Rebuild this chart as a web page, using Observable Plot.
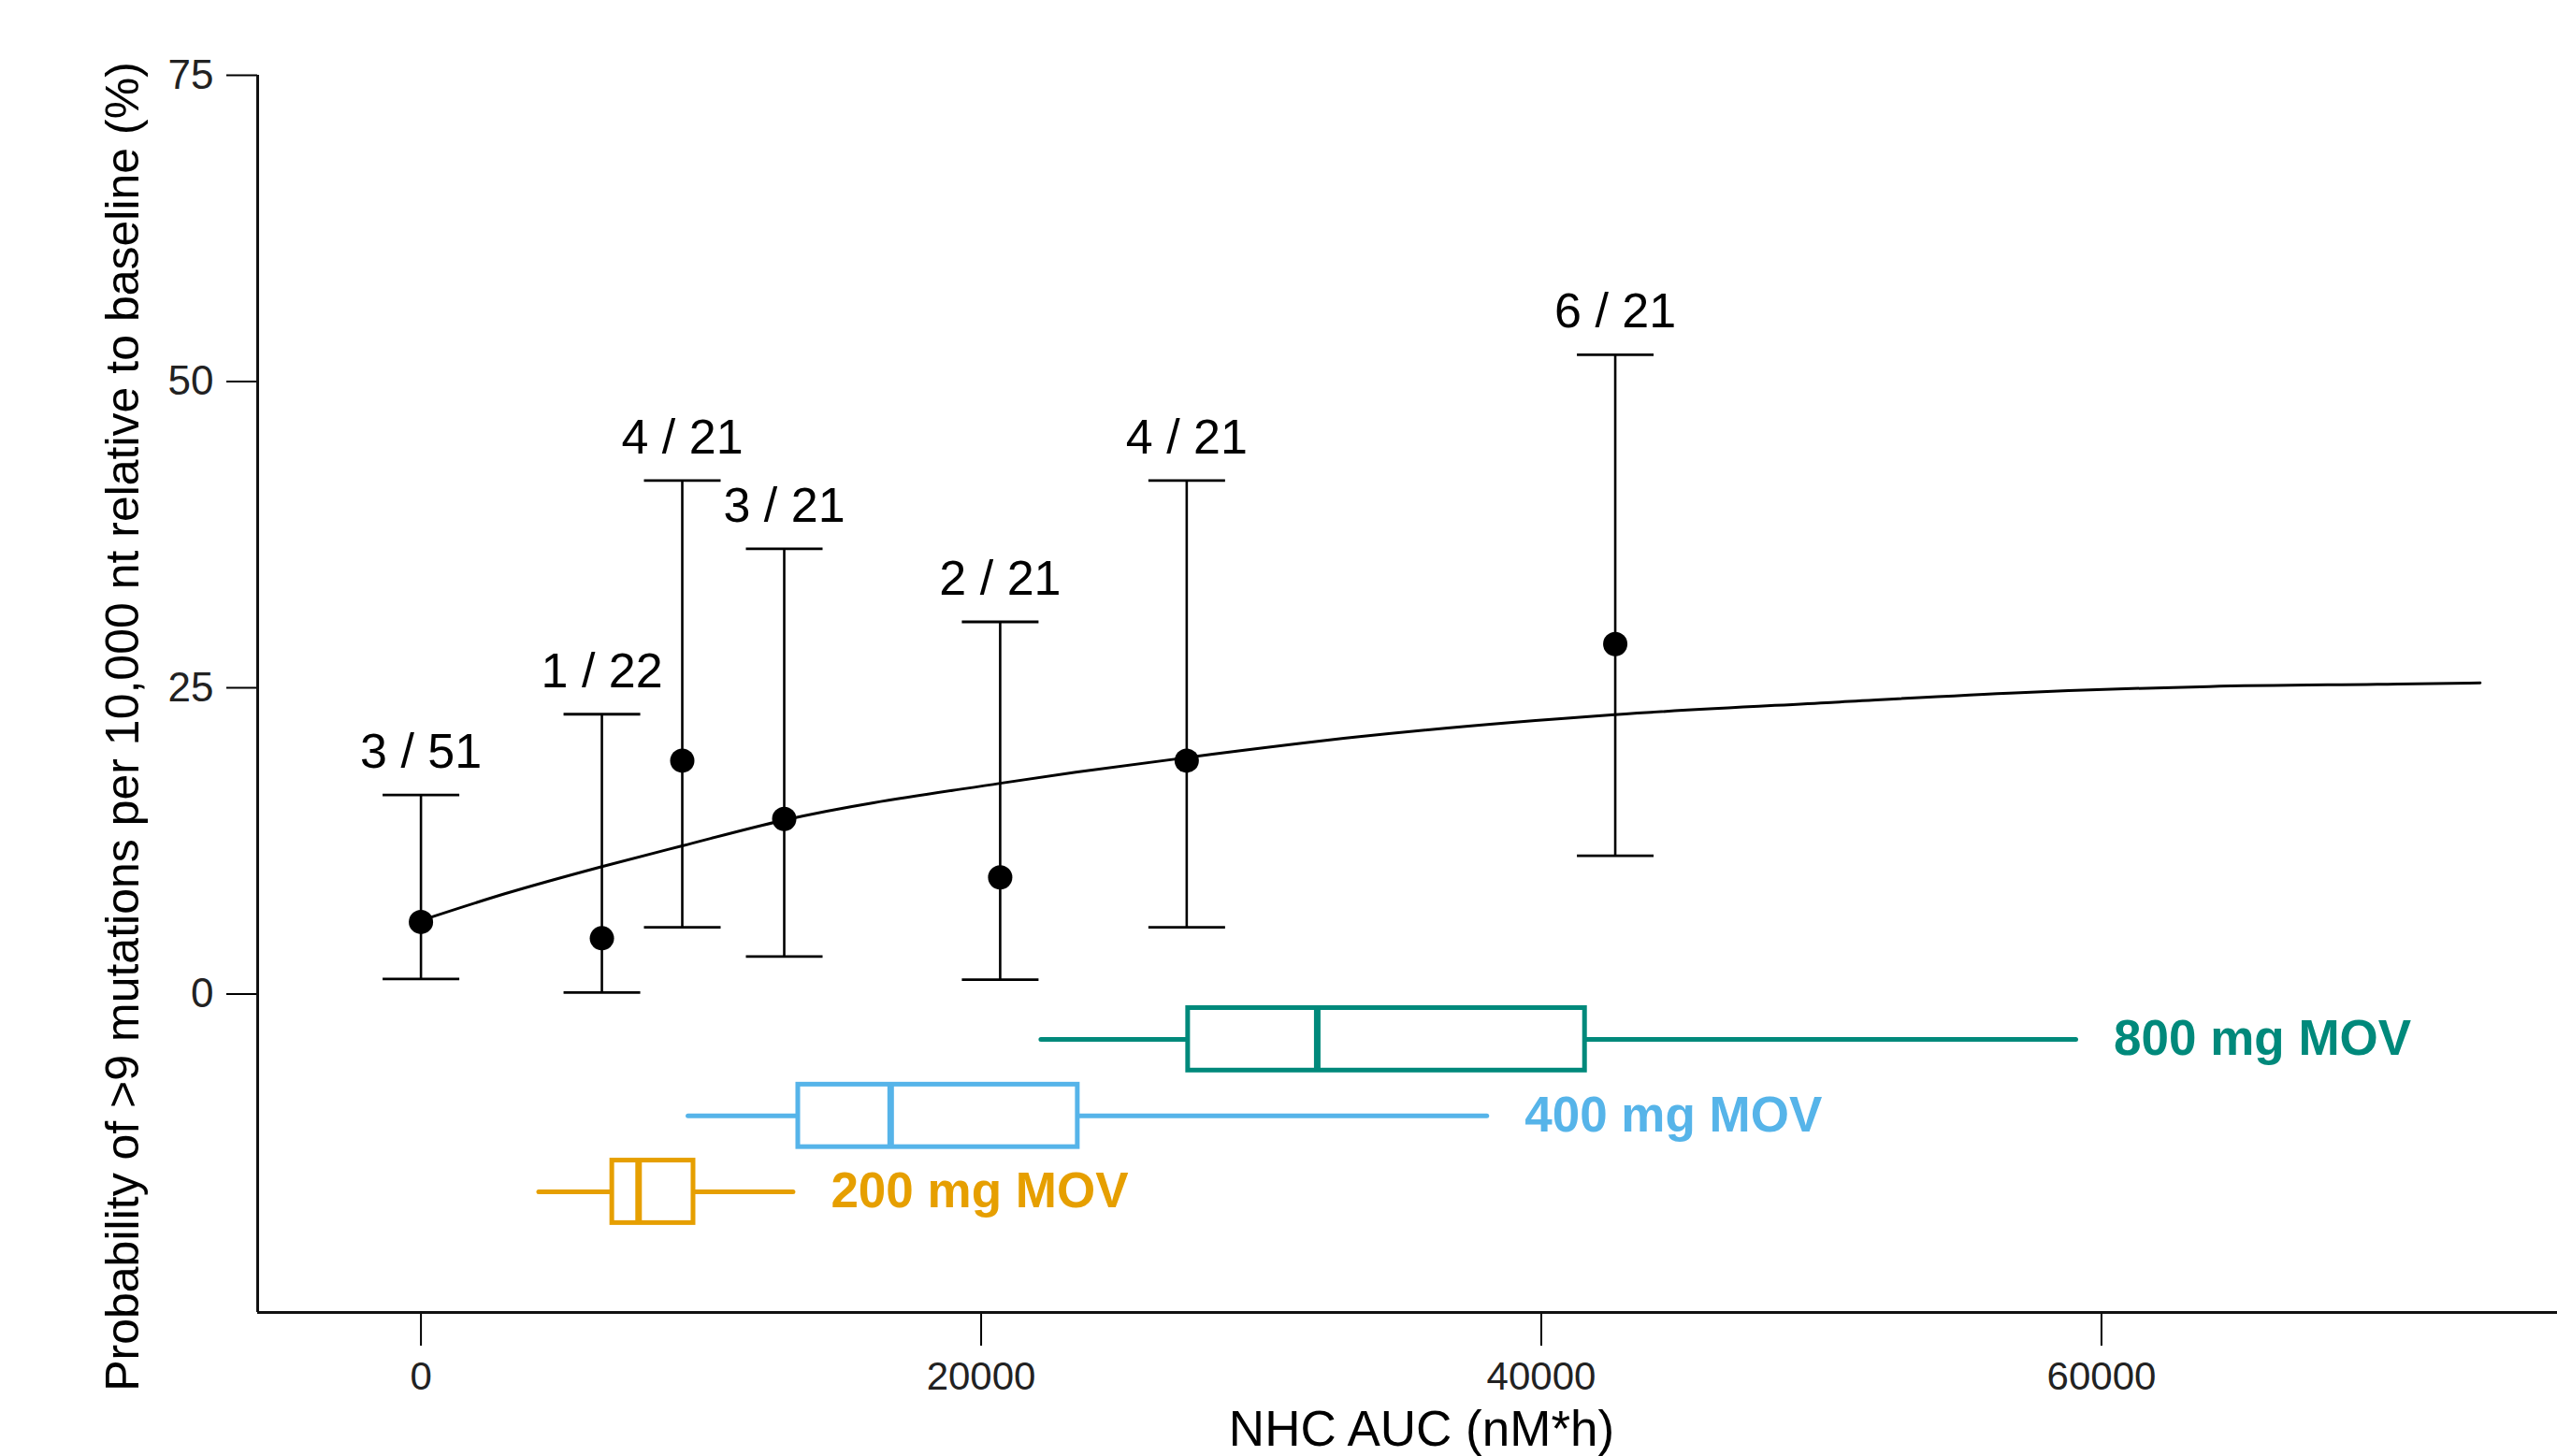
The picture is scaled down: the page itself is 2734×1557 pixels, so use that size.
<!DOCTYPE html>
<html>
<head>
<meta charset="utf-8">
<script src="https://cdn.jsdelivr.net/npm/d3@7"></script>
<script src="https://cdn.jsdelivr.net/npm/@observablehq/plot@0.6"></script>
<style>
  html, body { margin: 0; padding: 0; background: #ffffff; }
  #chart svg { display: block; }
</style>
</head>
<body>
<div id="chart"></div>
<script>
// ---------------- DATA ----------------
// Observed proportions (binned NHC AUC) with exact 95% CI
const pointAUC   = [0, 6460, 9330, 12970, 20680, 27340, 42640];
const pointProb  = [5.88, 4.55, 19.05, 14.29, 9.52, 19.05, 28.57];
const ciLow      = [1.23, 0.12, 5.45, 3.05, 1.17, 5.45, 11.28];
const ciHigh     = [16.24, 22.84, 41.91, 36.34, 30.38, 41.91, 52.18];
const countLabels = ["3 / 51", "1 / 22", "4 / 21", "3 / 21", "2 / 21", "4 / 21", "6 / 21"];

// Model-predicted curve
const curveAUC  = [0, 3020, 6460, 9330, 12970, 20680, 23380, 27340, 33500, 42610, 50350, 57100, 63840, 70580, 73520];
const curveProb = [6.0, 8.2, 10.4, 12.1, 14.2, 17.2, 18.1, 19.3, 21.0, 22.8, 23.8, 24.6, 25.1, 25.3, 25.4];

// NHC AUC distribution by dose (box plots)
const doses       = ["800 mg MOV", "400 mg MOV", "200 mg MOV"];
const whiskerLow  = [22150, 9550, 4220];
const quartile1   = [27390, 13470, 6830];
const medianAUC   = [32000, 16770, 7770];
const quartile3   = [41560, 23450, 9730];
const whiskerHigh = [59100, 38070, 13300];

const xTicks = [0, 20000, 40000, 60000];
const yTicks = [0, 25, 50, 75];
const xTitle = "NHC AUC (nM*h)";
const yTitle = "Probability of >9 mutations per 10,000 nt relative to baseline (%)";

// ---------------- LAYOUT / STYLE ----------------
const xDomain = [-5830, 76280];
const yDomain = [-26, 75];
const doseRowY = [-3.7, -9.95, -16.15];
const boxHalf = 2.55;
const doseColors = ["#00897B", "#56B4E9", "#E69F00"];
const FONT = "'Liberation Sans', Arial, Helvetica, sans-serif";

const points = pointAUC.map((x, i) => ({x, p: pointProb[i], lo: ciLow[i], hi: ciHigh[i], label: countLabels[i]}));
const curve = curveAUC.map((x, i) => ({x, p: curveProb[i]}));

// horizontal cap symbol for error bars
const capSymbol = {
  draw(context, size) {
    const r = Math.sqrt(size / Math.PI);
    context.moveTo(-r, 0);
    context.lineTo(r, 0);
  }
};

const boxMarks = [];
doses.forEach((dose, i) => {
  const row = [{
    dose, lo: whiskerLow[i], q1: quartile1[i], med: medianAUC[i], q3: quartile3[i], hi: whiskerHigh[i],
    y: doseRowY[i], y1: doseRowY[i] - boxHalf, y2: doseRowY[i] + boxHalf
  }];
  const c = doseColors[i];
  boxMarks.push(
    Plot.ruleY(row, {y: "y", x1: "lo", x2: "q1", stroke: c, strokeWidth: 5, strokeLinecap: "round"}),
    Plot.ruleY(row, {y: "y", x1: "q3", x2: "hi", stroke: c, strokeWidth: 5, strokeLinecap: "round"}),
    Plot.rect(row, {x1: "q1", x2: "q3", y1: "y1", y2: "y2", fill: "white", stroke: c, strokeWidth: 5}),
    Plot.ruleX(row, {x: "med", y1: "y1", y2: "y2", stroke: c, strokeWidth: 7}),
    Plot.text(row, {x: "hi", y: "y", text: "dose", dx: 40, textAnchor: "start", fill: c,
      fontWeight: "bold", fontSize: 53, fontFamily: FONT})
  );
});

const chart = Plot.plot({
  width: 2734,
  height: 1557,
  marginLeft: 275,
  marginRight: 0,
  marginTop: 80,
  marginBottom: 154,
  style: {fontFamily: FONT, color: "black", background: "white", overflow: "visible"},
  x: {domain: xDomain},
  y: {domain: yDomain},
  marks: [
    // axes
    Plot.axisY({ticks: yTicks, tickSize: 33, tickPadding: 14, fontSize: 44, label: null,
      strokeWidth: 2, fontFamily: FONT, fill: "#222"}),
    Plot.axisX({ticks: xTicks, tickSize: 36, tickPadding: 17, fontSize: 42, label: null,
      tickFormat: d => String(d), strokeWidth: 2, fontFamily: FONT, fill: "#222"}),
    Plot.ruleX([xDomain[0]], {stroke: "#111", strokeWidth: 3}),
    Plot.ruleY([yDomain[0]], {stroke: "#111", strokeWidth: 3}),
    // box plots
    ...boxMarks,
    // model curve
    Plot.line(curve, {x: "x", y: "p", stroke: "black", strokeWidth: 3, curve: "monotone-x"}),
    // error bars
    Plot.ruleX(points, {x: "x", y1: "lo", y2: "hi", stroke: "black", strokeWidth: 2.6}),
    Plot.dot(points, {x: "x", y: "hi", symbol: capSymbol, r: 41, stroke: "black", strokeWidth: 2.8, fill: "none"}),
    Plot.dot(points, {x: "x", y: "lo", symbol: capSymbol, r: 41, stroke: "black", strokeWidth: 2.8, fill: "none"}),
    Plot.dot(points, {x: "x", y: "p", r: 13, fill: "black", stroke: null}),
    Plot.text(points, {x: "x", y: "hi", text: "label", dy: -29, lineAnchor: "bottom",
      fontSize: 52, fill: "black", fontFamily: FONT}),
    // axis titles
    Plot.text([yTitle], {text: d => d, frameAnchor: "left", rotate: -90, dx: -144, dy: 35,
      textAnchor: "middle", lineAnchor: "middle", fontSize: 50, fill: "black", fontFamily: FONT}),
    Plot.text([xTitle], {text: d => d, frameAnchor: "bottom", dx: 15, dy: 126,
      textAnchor: "middle", lineAnchor: "middle", fontSize: 53, fill: "black", fontFamily: FONT})
  ]
});

document.getElementById("chart").appendChild(chart);
</script>
</body>
</html>
